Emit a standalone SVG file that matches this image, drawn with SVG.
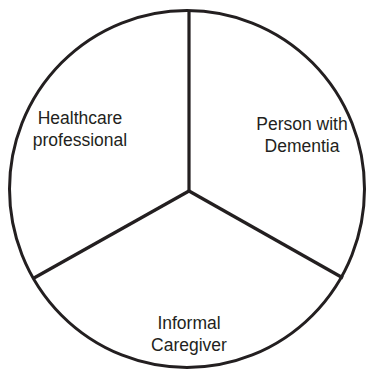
<svg xmlns="http://www.w3.org/2000/svg" width="366" height="370" viewBox="0 0 366 370">
<style>
.ring{fill:#fff;stroke:#231f20;stroke-width:3}
.div{stroke:#231f20;stroke-width:3.2;fill:none}
.lbl{font-family:"Liberation Sans",Arial,sans-serif;font-size:17.5px;fill:#231f20;text-anchor:middle}
</style>
<rect width="366" height="370" fill="#fff"/>
<g id="circle"><ellipse class="ring" cx="187" cy="189" rx="177.5" ry="178.5"/></g>
<g id="connectors">
<line class="div" x1="189" y1="10" x2="189" y2="191"/>
<line class="div" x1="189" y1="191" x2="34" y2="278"/>
<line class="div" x1="189" y1="191" x2="343" y2="278"/>
</g>
<g id="healthcare"><text class="lbl" x="80" y="124">Healthcare</text><text class="lbl" x="80" y="146">professional</text></g>
<g id="person"><text class="lbl" x="302" y="130">Person with</text><text class="lbl" x="302" y="152">Dementia</text></g>
<g id="caregiver"><text class="lbl" x="189" y="329">Informal</text><text class="lbl" x="189" y="351">Caregiver</text></g>
</svg>
